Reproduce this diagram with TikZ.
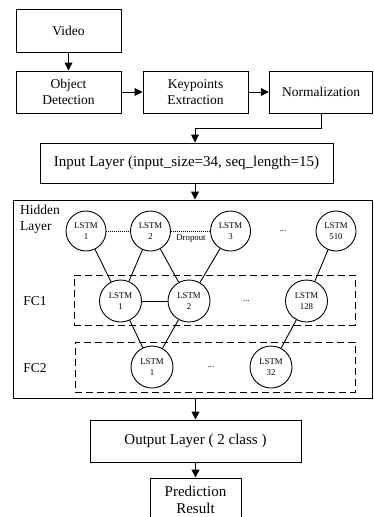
\documentclass[tikz,border=0pt]{standalone}
\usepackage{fontspec}
\setmainfont{Liberation Serif}
\usetikzlibrary{arrows.meta,calc}
\begin{document}
\begin{tikzpicture}[x=1pt,y=-1pt,
 box/.style={draw, line width=1pt, align=center, inner sep=0pt, font=\fontsize{13.5}{16.5}\selectfont},
 bigbox/.style={box, font=\fontsize{15}{17}\selectfont},
 lstm/.style={draw, circle, line width=0.9pt, minimum size=40pt, inner sep=0pt, align=center, font=\fontsize{8.8}{11.5}\selectfont},
 fclstm/.style={lstm, minimum size=42pt},
 small/.style={inner sep=0pt, font=\fontsize{8.8}{10}\selectfont},
 fcbox/.style={draw, dash pattern=on 7pt off 4pt, line width=1pt, inner sep=0pt},
 arr/.style={-{Triangle[length=8pt,width=8pt]}, line width=1pt},
 link/.style={line width=0.9pt},
 dotlink/.style={line width=0.9pt, dash pattern=on 1pt off 1pt},
 lbl/.style={inner sep=0pt, font=\fontsize{13.5}{15.5}\selectfont}]
\useasboundingbox (0,0) rectangle (373,517);
\clip (0,0) rectangle (373,517);
% top pipeline
\node[box, minimum width=105pt, minimum height=43pt] (video) at (68.5,30.5) {Video};
\node[box, minimum width=105pt, minimum height=42pt] (obj) at (68.5,92) {Object\\Detection};
\node[box, minimum width=105pt, minimum height=42pt] (kp) at (195.5,92) {Keypoints\\Extraction};
\node[box, minimum width=103.5pt, minimum height=42pt] (norm) at (321,92) {Normalization};
\node[bigbox, minimum width=293pt, minimum height=40pt] (input) at (186.5,163) {Input Layer (input\_size=34, seq\_length=15)};
% hidden block
\node[draw, line width=1pt, minimum width=359.5pt, minimum height=198pt, inner sep=0pt] (hidden) at (192.75,299) {};
\node[lbl, align=left, anchor=north west] (hl) at (20,205) {Hidden\\Layer};
\node[lstm] (h1) at (86,231) {LSTM\\1};
\node[lstm] (h2) at (150.5,231) {LSTM\\2};
\node[lstm] (h3) at (230.5,231) {LSTM\\3};
\node[lstm] (h510) at (336,231) {LSTM\\510};
\node[small] (hd) at (283,231) {...};
\node[small] (drop) at (191,239) {Dropout};
% FC1
\node[fcbox, minimum width=281pt, minimum height=50pt] (fc1) at (214.5,300) {};
\node[lbl] (fc1l) at (35,301) {FC1};
\node[fclstm] (f1) at (120.5,301) {LSTM\\1};
\node[fclstm] (f2) at (189,301) {LSTM\\2};
\node[fclstm] (f128) at (306.5,301) {LSTM\\128};
\node[small] (fd) at (246.5,301) {...};
% FC2
\node[fcbox, minimum width=280pt, minimum height=50pt] (fc2) at (215,367) {};
\node[lbl] (fc2l) at (35,368) {FC2};
\node[fclstm] (g1) at (152,367) {LSTM\\1};
\node[fclstm] (g32) at (271,367) {LSTM\\32};
\node[small] (gd) at (211,367) {...};
% output
\node[bigbox, minimum width=211pt, minimum height=42pt] (out) at (195.5,441) {Output Layer ( 2 class )};
\node[bigbox, minimum width=91pt, minimum height=43pt] (pred) at (195.5,499.5) {Prediction\\Result};
% arrows
\coordinate (j1) at (195,128);
\draw[arr] (video) -- (obj);
\draw[arr] (obj) -- (kp);
\draw[arr] (kp) -- (norm);
\draw[arr] (norm.south) |- (j1) -- (j1 |- input.north);
\draw[arr] (j1 |- input.south) -- (j1 |- hidden.north);
\draw[arr] (hidden.south -| out.north) -- (out.north);
\draw[arr] (out) -- (pred);
% links
\draw[dotlink] (h1) -- (h2);
\draw[dotlink] (h2) -- (h3);
\draw[link] (h1) -- (f1);
\draw[link] (h2) -- (f1);
\draw[link] (h2) -- (f2);
\draw[link] (h3) -- (f2);
\draw[link] (h510) -- (f128);
\draw[link] (f1) -- (f2);
\draw[link] (f1) -- (g1);
\draw[link] (f2) -- (g1);
\draw[link] (f128) -- (g32);
\end{tikzpicture}
\end{document}
